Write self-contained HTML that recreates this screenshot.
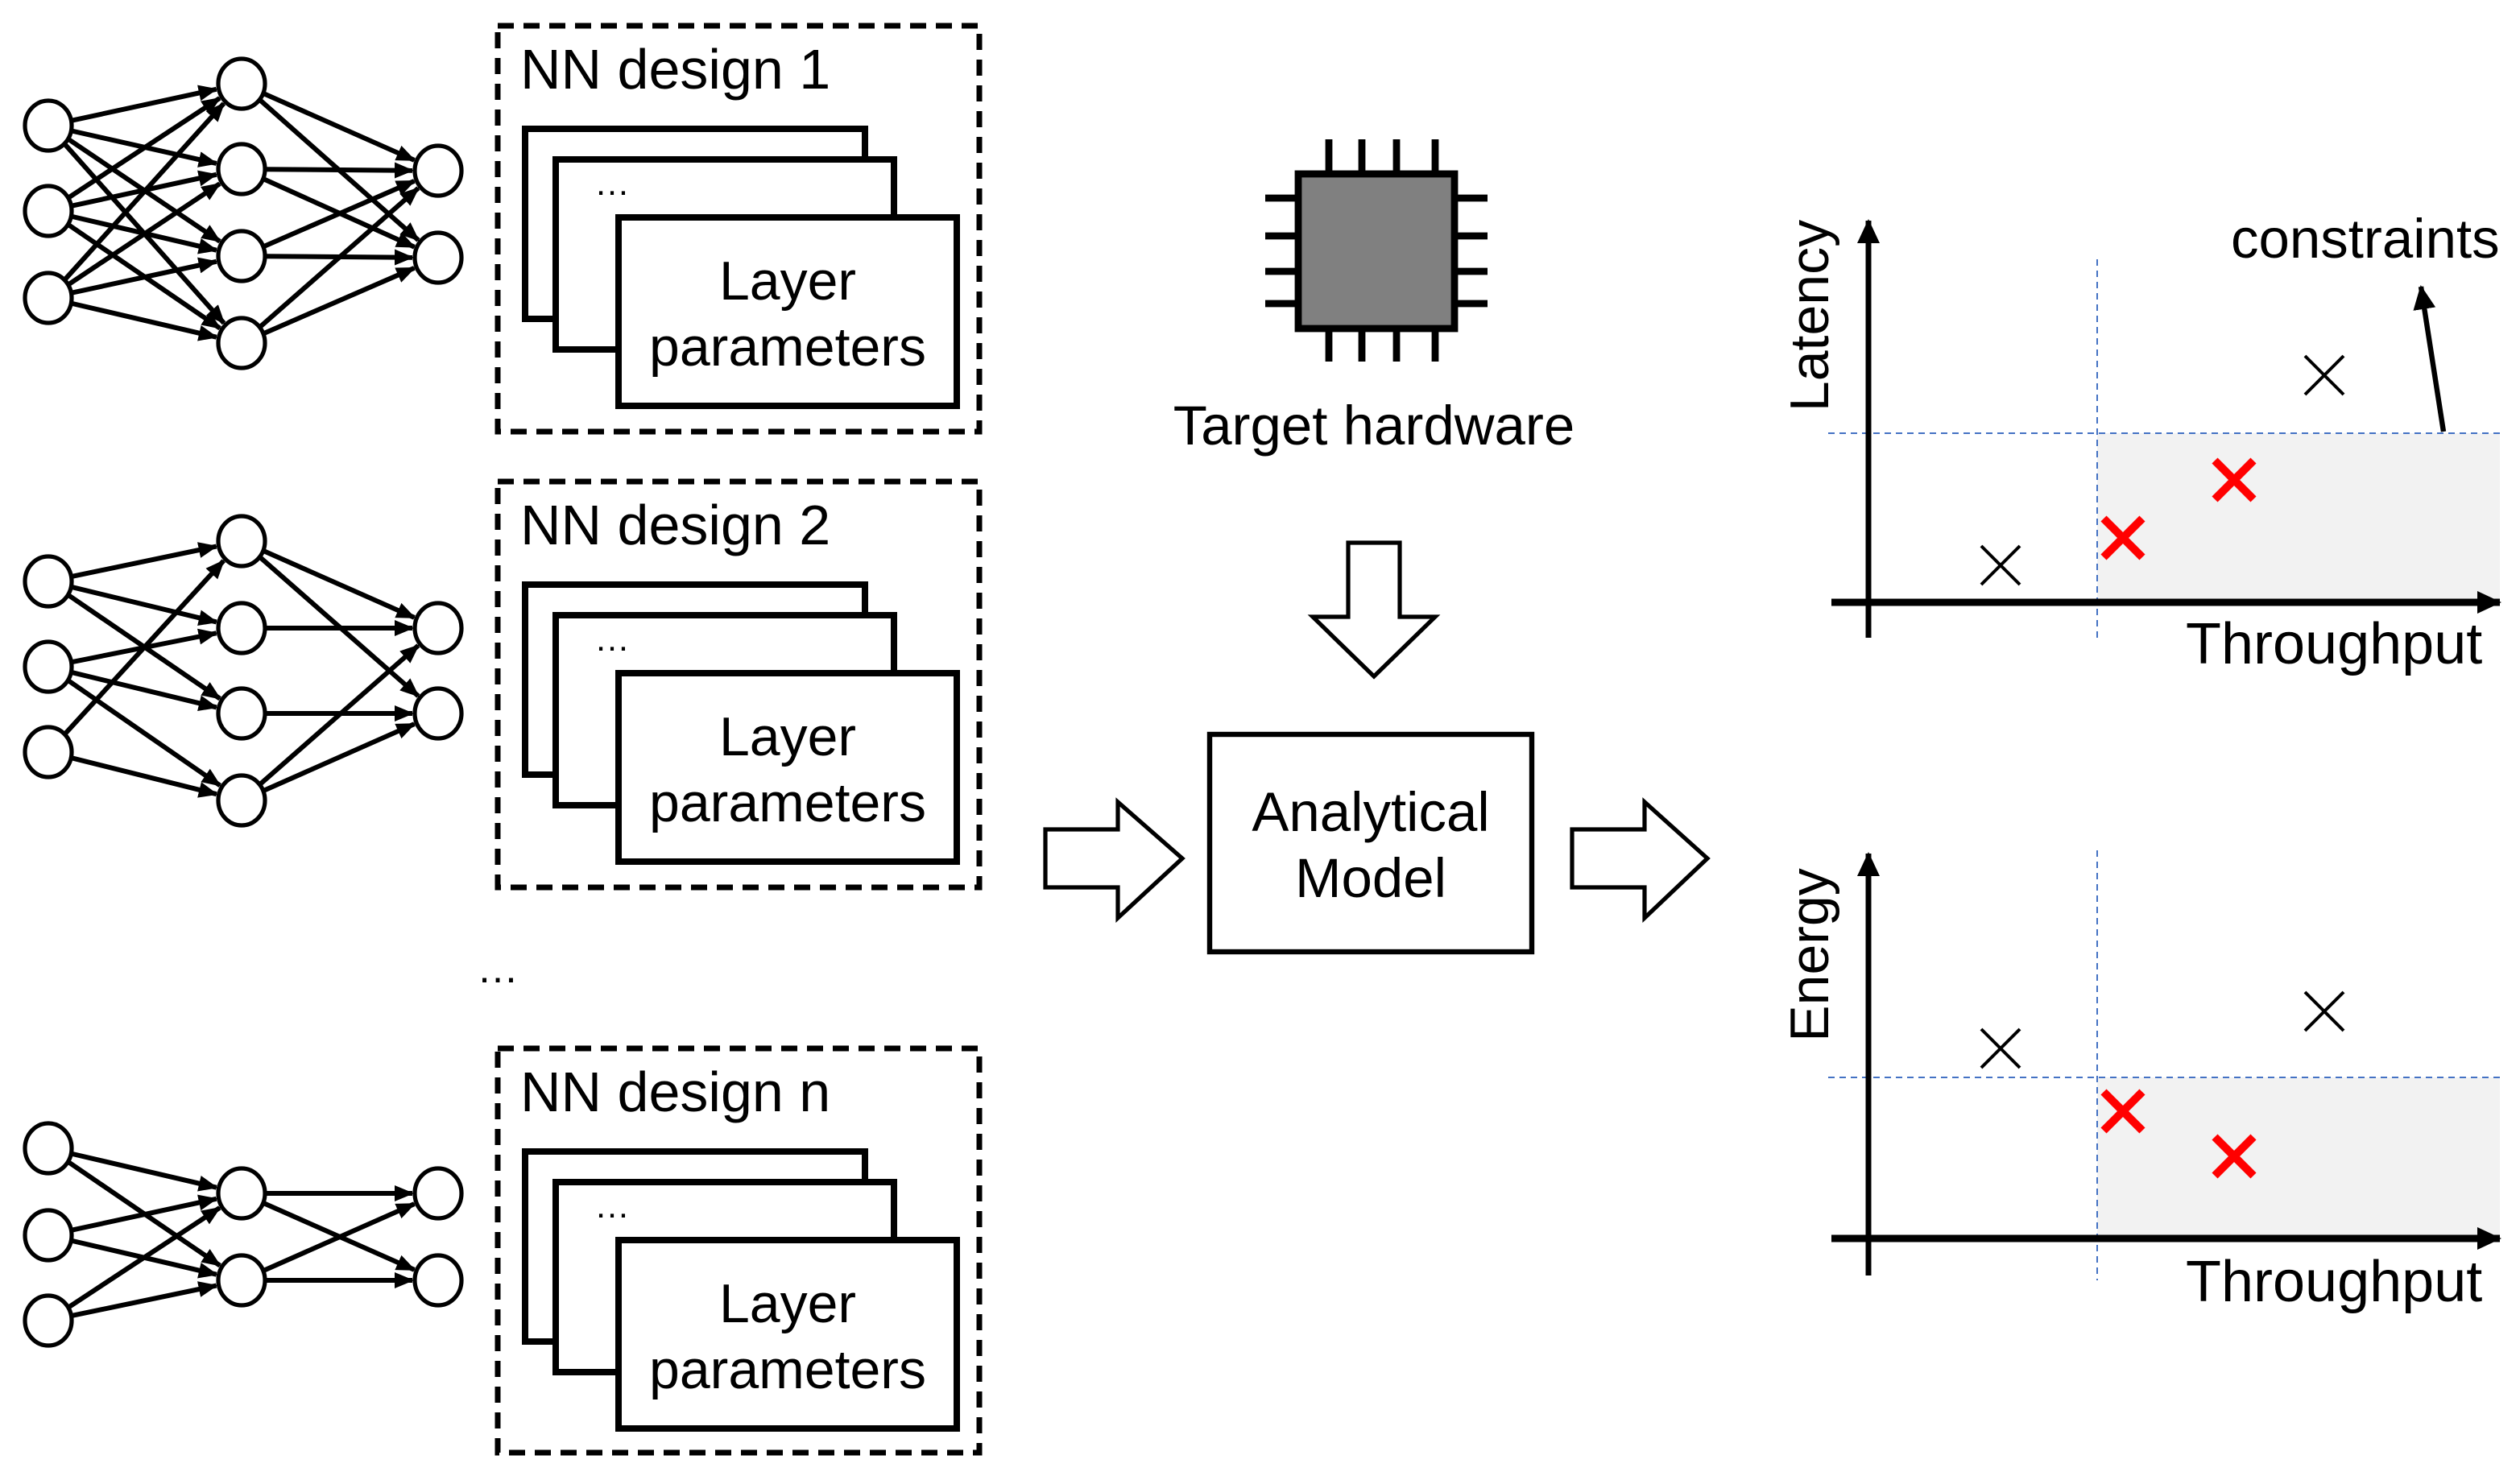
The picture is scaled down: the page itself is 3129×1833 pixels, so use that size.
<!DOCTYPE html>
<html><head><meta charset="utf-8"><style>
html,body{margin:0;padding:0;background:#fff;}
svg{display:block;}
text{font-family:"Liberation Sans","DejaVu Sans",sans-serif;fill:#000;}
</style></head><body>
<svg id="s" width="3129" height="1833" viewBox="0 0 1564.5 916.5" xmlns="http://www.w3.org/2000/svg">
<defs>
<marker id="ah" markerWidth="12" markerHeight="12" refX="11" refY="6" orient="auto" markerUnits="userSpaceOnUse">
<path d="M0,1 L12,6 L0,11 z" fill="#000"/></marker>
<marker id="ax" markerWidth="16" markerHeight="16" refX="14" refY="8" orient="auto" markerUnits="userSpaceOnUse">
<path d="M0,1 L15,8 L0,15 z" fill="#000"/></marker>
</defs>
<g id="edges" stroke="#000" stroke-width="3" fill="none"></g>
<g id="nodes" stroke="#000" stroke-width="2.6" fill="#fff"></g>

<g fill="none" stroke="#000" stroke-width="3.5" stroke-dasharray="10,6">
<rect x="309" y="16" width="299" height="252"/>
<rect x="309" y="299" width="299" height="252"/>
<rect x="309" y="651" width="299" height="251"/>
</g>
<g id="stacks"></g>

<text x="296" y="610" font-size="26">…</text>

<g stroke="#000" stroke-width="4.4">
<line x1="825" y1="86.5" x2="825" y2="106"/><line x1="845.5" y1="86.5" x2="845.5" y2="106"/><line x1="867" y1="86.5" x2="867" y2="106"/><line x1="891" y1="86.5" x2="891" y2="106"/>
<line x1="825" y1="205" x2="825" y2="224.5"/><line x1="845.5" y1="205" x2="845.5" y2="224.5"/><line x1="867" y1="205" x2="867" y2="224.5"/><line x1="891" y1="205" x2="891" y2="224.5"/>
<line x1="785.5" y1="123" x2="805" y2="123"/><line x1="785.5" y1="146.5" x2="805" y2="146.5"/><line x1="785.5" y1="168.5" x2="805" y2="168.5"/><line x1="785.5" y1="188.5" x2="805" y2="188.5"/>
<line x1="904" y1="123" x2="923.5" y2="123"/><line x1="904" y1="146.5" x2="923.5" y2="146.5"/><line x1="904" y1="168.5" x2="923.5" y2="168.5"/><line x1="904" y1="188.5" x2="923.5" y2="188.5"/>
<rect x="806" y="108" width="97" height="96" fill="#808080"/>
</g>
<text x="853" y="276" font-size="34.5" text-anchor="middle">Target hardware</text>

<g fill="#fff" stroke="#000" stroke-width="2.6">
<polygon points="837,337 869,337 869,383 891,383 853,420 815,383 837,383"/>
<polygon points="649,515 694,515 694,498 734,533 694,570 694,551 649,551"/>
<polygon points="976,515 1021,515 1021,498 1060,533 1021,570 1021,551 976,551"/>
</g>
<rect x="751" y="456" width="200" height="135" fill="#fff" stroke="#000" stroke-width="3.2"/>
<text x="851" y="516" font-size="34.5" text-anchor="middle">Analytical</text>
<text x="851" y="557" font-size="34.5" text-anchor="middle">Model</text>

<rect x="1302" y="269" width="250" height="105" fill="#f2f2f2"/>
<g stroke="#4472c4" stroke-width="1" stroke-dasharray="4,3">
<line x1="1135" y1="269" x2="1552" y2="269"/><line x1="1302" y1="161" x2="1302" y2="398"/>
</g>
<line x1="1160" y1="396" x2="1160" y2="137" stroke="#000" stroke-width="3.5" marker-end="url(#ax)"/>
<line x1="1137" y1="374" x2="1552" y2="374" stroke="#000" stroke-width="4.5" marker-end="url(#ax)"/>
<line x1="1517" y1="268" x2="1503" y2="178" stroke="#000" stroke-width="3.2" marker-end="url(#ax)"/>
<text x="1385" y="160" font-size="34.5">constraints</text>
<text x="1357" y="412" font-size="36">Throughput</text>
<text transform="translate(1135,196) rotate(-90)" font-size="34" text-anchor="middle">Latency</text>

<rect x="1302" y="669" width="250" height="100" fill="#f2f2f2"/>
<g stroke="#4472c4" stroke-width="1" stroke-dasharray="4,3">
<line x1="1135" y1="669" x2="1552" y2="669"/><line x1="1302" y1="528" x2="1302" y2="795"/>
</g>
<line x1="1160" y1="792" x2="1160" y2="530" stroke="#000" stroke-width="3.5" marker-end="url(#ax)"/>
<line x1="1137" y1="769" x2="1552" y2="769" stroke="#000" stroke-width="4.5" marker-end="url(#ax)"/>
<text x="1357" y="808" font-size="36">Throughput</text>
<text transform="translate(1135,593) rotate(-90)" font-size="34" text-anchor="middle">Energy</text>

<g id="xs"></g>
</svg>
<script>
var NS="http://www.w3.org/2000/svg";
function el(p,t,a){var e=document.createElementNS(NS,t);for(var k in a)e.setAttribute(k,a[k]);p.appendChild(e);return e;}
var E=document.getElementById('edges'),N=document.getElementById('nodes');
var rx=14.5,ry=15.5;
function edge(a,b){var dx=b[0]-a[0],dy=b[1]-a[1],L=Math.hypot(dx,dy),ux=dx/L,uy=dy/L;
 var s=1/Math.sqrt((ux*ux)/(rx*rx)+(uy*uy)/(ry*ry));
 el(E,'line',{x1:a[0]+ux*s,y1:a[1]+uy*s,x2:b[0]-ux*(s+1.5),y2:b[1]-uy*(s+1.5),'marker-end':'url(#ah)'});}
function net(inp,hid,out,ih,ho){
 ih.forEach(function(p){edge(inp[p[0]],hid[p[1]]);});
 ho.forEach(function(p){edge(hid[p[0]],out[p[1]]);});
 inp.concat(hid,out).forEach(function(c){el(N,'ellipse',{cx:c[0],cy:c[1],rx:rx,ry:ry});});}
function full(a,b){var r=[];for(var i=0;i<a;i++)for(var j=0;j<b;j++)r.push([i,j]);return r;}
function col(x,ys){return ys.map(function(y){return [x,y];});}
net(col(30,[78,131,185]),col(150,[52,105,159,213]),col(272,[106,160]),full(3,4),full(4,2));
net(col(30,[361,414,467]),col(150,[336,390,443,497]),col(272,[390,443]),
 [[0,0],[0,1],[0,2],[1,1],[1,2],[1,3],[2,0],[2,3]],[[0,0],[0,1],[1,0],[2,1],[3,0],[3,1]]);
net(col(30,[713,767,820]),col(150,[741,795]),col(272,[741,795]),full(3,2),full(2,2));
var S=document.getElementById('stacks');
[0,283,635].forEach(function(o){
 el(S,'text',{x:323,y:55+o,'font-size':35}).textContent='NN design '+(o==0?'1':o==283?'2':'n');
 el(S,'rect',{x:326,y:80+o,width:211,height:118,fill:'#fff',stroke:'#000','stroke-width':4});
 el(S,'rect',{x:345,y:99+o,width:210,height:118,fill:'#fff',stroke:'#000','stroke-width':4});
 el(S,'text',{x:369,y:121+o,'font-size':22}).textContent='…';
 el(S,'rect',{x:384,y:135+o,width:210,height:117,fill:'#fff',stroke:'#000','stroke-width':4});
 el(S,'text',{x:489,y:186+o,'font-size':34,'text-anchor':'middle'}).textContent='Layer';
 el(S,'text',{x:489,y:227+o,'font-size':34,'text-anchor':'middle'}).textContent='parameters';
});
var X=document.getElementById('xs');
function cross(x,y,c,w,r){el(X,'path',{d:'M'+(x-r)+','+(y-r)+' L'+(x+r)+','+(y+r)+' M'+(x+r)+','+(y-r)+' L'+(x-r)+','+(y+r),stroke:c,'stroke-width':w,fill:'none'});}
cross(1242,351,'#000',2,12);cross(1443,233,'#000',2,12);
cross(1318,334,'#f00',5,12);cross(1387,298,'#f00',5,12);
cross(1242,651,'#000',2,12);cross(1443,628,'#000',2,12);
cross(1318,690,'#f00',5,12);cross(1387,718,'#f00',5,12);
</script>
</body></html>
